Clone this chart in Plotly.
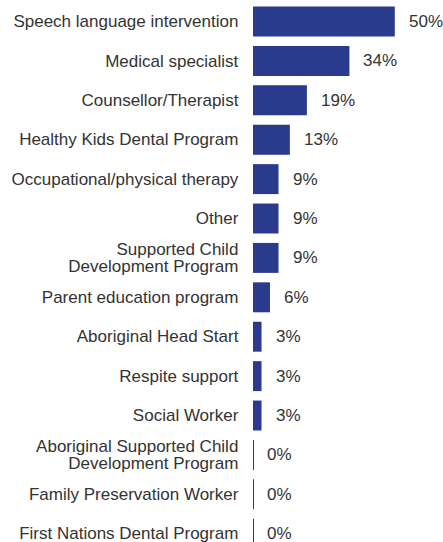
import plotly.graph_objects as go

categories = [
    "Speech language intervention",
    "Medical specialist",
    "Counsellor/Therapist",
    "Healthy Kids Dental Program",
    "Occupational/physical therapy",
    "Other",
    "Supported Child<br>Development Program",
    "Parent education program",
    "Aboriginal Head Start",
    "Respite support",
    "Social Worker",
    "Aboriginal Supported Child<br>Development Program",
    "Family Preservation Worker",
    "First Nations Dental Program",
]
values = [50, 34, 19, 13, 9, 9, 9, 6, 3, 3, 3, 0, 0, 0]
labels = [f"{v}%" for v in values]

BAR = "#2a3a8c"
TXT = "#333333"
FONT = "Liberation Sans, Arial, sans-serif"
FS = 17

# zero values drawn as a hairline so the row still shows a mark
shown = [v if v > 0 else 0.35 for v in values]

def big(c):
    return "<br>".join(f'<span style="font-size:{FS}px">{p}</span>' for p in c.split("<br>"))

fig = go.Figure(go.Bar(
    x=shown, y=categories, orientation="h",
    marker=dict(color=BAR, line=dict(width=0)),
    hoverinfo="skip",
))

for v, c, t in zip(values, categories, labels):
    fig.add_annotation(x=v, y=c, text=t, showarrow=False, xanchor="left",
                       xshift=12, font=dict(size=FS, color=TXT, family=FONT))

fig.update_layout(
    width=443, height=542,
    margin=dict(l=253, r=0, t=2, b=0, autoexpand=False),
    paper_bgcolor="white", plot_bgcolor="white",
    bargap=0.24, showlegend=False,
    font=dict(family=FONT, size=FS, color=TXT),
)
fig.update_xaxes(range=[0, 67], visible=False, fixedrange=True)
fig.update_yaxes(
    categoryorder="array", categoryarray=categories,
    tickvals=categories, ticktext=[big(c) for c in categories],
    range=[13.21, -0.495], showgrid=False, zeroline=False, showline=False,
    ticks="outside", ticklen=11, tickcolor="rgba(0,0,0,0)", automargin=False,
    ticklabelshift=-1,
    tickfont=dict(size=13.2, color=TXT, family=FONT), fixedrange=True,
)
fig.write_html("out.html", config={"displayModeBar": False},
               post_script="document.body.style.margin='0';")
